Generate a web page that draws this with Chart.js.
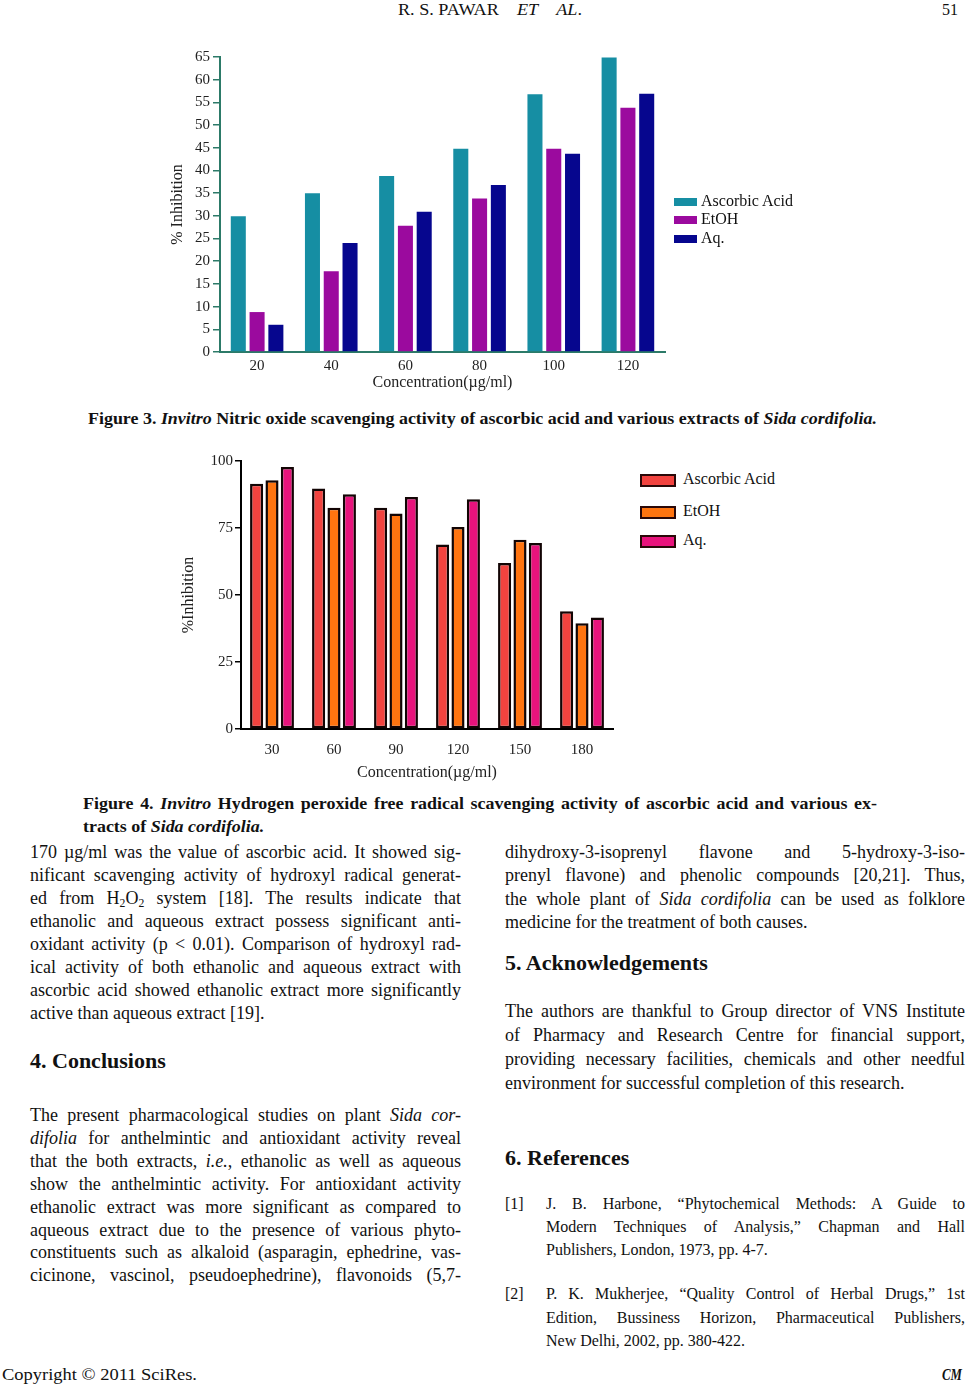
<!DOCTYPE html>
<html>
<head>
<meta charset="utf-8">
<script src="https://cdn.jsdelivr.net/npm/chart.js@4.4.1/dist/chart.umd.min.js"></script>
<style>
  html, body { margin: 0; padding: 0; background: #fff; }
  body { width: 966px; height: 1386px; position: relative; overflow: hidden;
         font-family: "Liberation Serif", "Times New Roman", serif; color: #111; }
  .line { position: absolute; height: 22px; line-height: 22px; font-size: 18px; white-space: nowrap; }
  .just { text-align: justify; text-align-last: justify; white-space: normal; }
  .ref { font-size: 16px; }
  .head { font-weight: bold; font-size: 22px; }
  .fit { position: absolute; white-space: nowrap; transform-origin: 0 50%; height: 22px; line-height: 22px; }
  sub { font-size: 0.65em; line-height: 0; vertical-align: -0.25em; }
  canvas { position: absolute; }
  .legItem { position: absolute; white-space: nowrap; font-size: 16px; height: 18px; line-height: 18px; color: #111; }
  .legItem span { display: inline-block; vertical-align: middle; box-sizing: border-box; }
</style>
</head>
<body>

<div id="hdr" class="fit" style="left:398px; top:-1px; font-size:17px;">R. S. PAWAR&nbsp;&nbsp;&nbsp;&nbsp;<i>ET</i>&nbsp;&nbsp;&nbsp;&nbsp;<i>AL</i>.</div>
<div id="pg" class="fit" style="left:942px; top:-1px; font-size:17px;">51</div>

<canvas id="fig3Chart" width="515" height="355" style="left:160px; top:45px;"></canvas>
<div id="fig3Legend"></div>
<div id="cap3" class="fit" style="left:88px; top:407px; font-size:17.5px; font-weight:bold;">Figure 3. <i>Invitro</i> Nitric oxide scavenging activity of ascorbic acid and various extracts of <i>Sida cordifolia.</i></div>

<canvas id="fig4Chart" width="455" height="338" style="left:170px; top:450px;"></canvas>
<div id="fig4Legend"></div>
<div id="cap4a" class="fit just" style="left:83px; top:792px; font-size:17.5px; font-weight:bold;">Figure 4. <i>Invitro</i> Hydrogen peroxide free radical scavenging activity of ascorbic acid and various ex-</div>
<div id="cap4b" class="fit" style="left:83px; top:815px; font-size:17.5px; font-weight:bold;">tracts of <i>Sida cordifolia.</i></div>

<div id="text"></div>

<div id="copy" class="fit" style="left:2px; top:1364px; font-size:17px;">Copyright © 2011 SciRes.</div>
<div id="cm" class="fit" style="left:942px; top:1364px; font-size:17px; font-weight:bold; font-style:italic;">CM</div>

<script>
// ---- chart data ----
const seriesNames = ['Ascorbic Acid', 'EtOH', 'Aq.'];

const fig3Conc = ['20', '40', '60', '80', '100', '120'];
const fig3Ascorbic = [29.9, 35.0, 38.8, 44.8, 56.8, 64.9];
const fig3Etoh = [8.8, 17.8, 27.8, 33.8, 44.8, 53.8];
const fig3Aq = [6.0, 24.0, 30.9, 36.8, 43.7, 56.9];
const fig3YMax = 65;
const fig3YStep = 5;

const fig4Conc = ['30', '60', '90', '120', '150', '180'];
const fig4Ascorbic = [91.5, 89.7, 82.6, 68.8, 61.9, 43.9];
const fig4Etoh = [92.8, 82.6, 80.4, 75.4, 70.6, 39.5];
const fig4Aq = [97.8, 87.6, 86.6, 85.7, 69.4, 41.6];
const fig4YMax = 100;
const fig4YStep = 25;

const fig3Colors = ['#168ea3', '#9b0a9e', '#06068e'];
const fig4Colors = ['#f2433f', '#ff7410', '#e8137c'];

Chart.defaults.font.family = '"Liberation Serif", "Times New Roman", serif';
Chart.defaults.color = '#222';

// ---- figure 3 ----
const axis3 = '#2c7a68';
new Chart(document.getElementById('fig3Chart'), {
  type: 'bar',
  data: {
    labels: fig3Conc,
    datasets: [fig3Ascorbic, fig3Etoh, fig3Aq].map((vals, i) => ({
      label: seriesNames[i],
      data: vals,
      backgroundColor: fig3Colors[i],
      barPercentage: 0.8,
      categoryPercentage: 0.76
    }))
  },
  options: {
    responsive: false,
    animation: false,
    layout: { padding: { top: 10, right: 10, bottom: 4, left: 0 } },
    plugins: { legend: { display: false }, tooltip: { enabled: false } },
    scales: {
      x: {
        grid: { display: false, drawTicks: false },
        border: { display: true, color: axis3, width: 2 },
        ticks: { padding: 5, font: { size: 15 }, color: '#222' },
        title: { display: true, text: 'Concentration(µg/ml)', font: { size: 16 }, color: '#222', padding: { top: 0, bottom: 4 } },
        afterFit: s => { s.height = 44; }
      },
      y: {
        min: 0,
        max: fig3YMax,
        grid: { drawOnChartArea: false, drawTicks: true, tickLength: 7, color: axis3, lineWidth: 1.5 },
        border: { display: true, color: axis3, width: 2 },
        ticks: { stepSize: fig3YStep, padding: 3, font: { size: 15 }, color: '#222' },
        title: { display: true, text: '% Inhibition', font: { size: 16 }, color: '#222', padding: { top: 8, bottom: 0 } },
        afterFit: s => { s.width = 60; }
      }
    }
  }
});

// ---- figure 4 ----
new Chart(document.getElementById('fig4Chart'), {
  type: 'bar',
  data: {
    labels: fig4Conc,
    datasets: [fig4Ascorbic, fig4Etoh, fig4Aq].map((vals, i) => ({
      label: seriesNames[i],
      data: vals,
      backgroundColor: fig4Colors[i],
      borderColor: '#120404',
      borderWidth: 2.5,
      borderSkipped: false,
      barPercentage: 0.85,
      categoryPercentage: 0.745
    }))
  },
  options: {
    responsive: false,
    animation: false,
    layout: { padding: { top: 11, right: 12, bottom: 3, left: 0 } },
    plugins: { legend: { display: false }, tooltip: { enabled: false } },
    scales: {
      x: {
        grid: { display: false, drawTicks: false },
        border: { display: true, color: '#000', width: 2 },
        ticks: { padding: 12, font: { size: 15 }, color: '#222' },
        title: { display: true, text: 'Concentration(µg/ml)', font: { size: 16 }, color: '#222', padding: { top: 0, bottom: 3 } },
        afterFit: s => { s.height = 56; }
      },
      y: {
        min: 0,
        max: fig4YMax,
        grid: { drawOnChartArea: false, drawTicks: true, tickLength: 6, color: '#000', lineWidth: 1.5 },
        border: { display: true, color: '#000', width: 2 },
        ticks: { stepSize: fig4YStep, padding: 2, font: { size: 15 }, color: '#222' },
        title: { display: true, text: '%Inhibition', font: { size: 16 }, color: '#222', padding: { top: 9, bottom: 0 } },
        afterFit: s => { s.width = 71; }
      }
    }
  }
});

// ---- legends (built from the series names / colours) ----
function buildLegend(holderId, colors, left, centers, boxW, boxH, border, textGap) {
  const holder = document.getElementById(holderId);
  seriesNames.forEach((name, i) => {
    const item = document.createElement('div');
    item.className = 'legItem';
    item.style.left = left + 'px';
    item.style.top = (centers[i] - 9) + 'px';
    const box = document.createElement('span');
    box.style.width = boxW + 'px';
    box.style.height = boxH + 'px';
    box.style.background = colors[i];
    if (border) box.style.border = border;
    box.style.marginRight = textGap + 'px';
    item.appendChild(box);
    item.appendChild(document.createTextNode(name));
    holder.appendChild(item);
  });
}
buildLegend('fig3Legend', fig3Colors, 674, [201, 219, 238], 23, 8, null, 4);
buildLegend('fig4Legend', fig4Colors, 640, [479, 511, 540], 36, 13, '2.5px solid #2a0808', 7);

// ---- body text ----
const leftPara1 = [
  '170 µg/ml was the value of ascorbic acid. It showed sig-',
  'nificant scavenging activity of hydroxyl radical generat-',
  'ed from H<sub>2</sub>O<sub>2</sub> system [18]. The results indicate that',
  'ethanolic and aqueous extract possess significant anti-',
  'oxidant activity (p &lt; 0.01). Comparison of hydroxyl rad-',
  'ical activity of both ethanolic and aqueous extract with',
  'ascorbic acid showed ethanolic extract more significantly',
  'active than aqueous extract [19].'
];
const leftPara2 = [
  'The present pharmacological studies on plant <i>Sida cor-</i>',
  '<i>difolia</i> for anthelmintic and antioxidant activity reveal',
  'that the both extracts, <i>i.e.</i>, ethanolic as well as aqueous',
  'show the anthelmintic activity. For antioxidant activity',
  'ethanolic extract was more significant as compared to',
  'aqueous extract due to the presence of various phyto-',
  'constituents such as alkaloid (asparagin, ephedrine, vas-',
  'cicinone, vascinol, pseudoephedrine), flavonoids (5,7-'
];
const rightPara1 = [
  'dihydroxy-3-isoprenyl flavone and 5-hydroxy-3-iso-',
  'prenyl flavone) and phenolic compounds [20,21]. Thus,',
  'the whole plant of <i>Sida cordifolia</i> can be used as folklore',
  'medicine for the treatment of both causes.'
];
const rightPara2 = [
  'The authors are thankful to Group director of VNS Institute',
  'of Pharmacy and Research Centre for financial support,',
  'providing necessary facilities, chemicals and other needful',
  'environment for successful completion of this research.'
];
const ref1 = [
  'J. B. Harbone, “Phytochemical Methods: A Guide to',
  'Modern Techniques of Analysis,” Chapman and Hall',
  'Publishers, London, 1973, pp. 4-7.'
];
const ref2 = [
  'P. K. Mukherjee, “Quality Control of Herbal Drugs,” 1st',
  'Edition, Bussiness Horizon, Pharmaceutical Publishers,',
  'New Delhi, 2002, pp. 380-422.'
];

const textBox = document.getElementById('text');
function addLine(html, left, width, cy, cls) {
  const d = document.createElement('div');
  d.className = 'line ' + (cls || '');
  d.style.left = left + 'px';
  d.style.width = width + 'px';
  d.style.top = (cy - 11) + 'px';
  d.innerHTML = html;
  textBox.appendChild(d);
}
function addPara(lines, left, width, cy0, step, extra, lastJustified) {
  lines.forEach((l, i) => {
    const justify = i < lines.length - 1 || lastJustified;
    addLine(l, left, width, cy0 + i * step, (justify ? 'just ' : '') + (extra || ''));
  });
}

addPara(leftPara1, 30, 431, 852, 23, '', false);
addLine('4. Conclusions', 30, 431, 1061, 'head');
addPara(leftPara2, 30, 431, 1115, 22.9, '', true);

addPara(rightPara1, 505, 460, 852, 23.3, '', false);
addLine('5. Acknowledgements', 505, 460, 963, 'head');
addPara(rightPara2, 505, 460, 1011, 24, '', false);
addLine('6. References', 505, 460, 1158, 'head');
addLine('[1]', 505, 40, 1204, 'ref');
addPara(ref1, 546, 419, 1204, 23, 'ref', false);
addLine('[2]', 505, 40, 1294, 'ref');
addPara(ref2, 546, 419, 1294, 23.5, 'ref', false);

// ---- condensed header/caption text: squeeze to the page widths ----
function fitTo(id, target) {
  const el = document.getElementById(id);
  const w = el.getBoundingClientRect().width;
  const r = target / w;
  el.style.transform = 'scaleX(' + r + ')';
  return r;
}
const capRatio = fitTo('cap3', 789);
const cap4a = document.getElementById('cap4a');
cap4a.style.width = (794 / capRatio) + 'px';
cap4a.style.transform = 'scaleX(' + capRatio + ')';
document.getElementById('cap4b').style.transform = 'scaleX(' + capRatio + ')';
fitTo('hdr', 184);
fitTo('pg', 16);
fitTo('copy', 195);
fitTo('cm', 20);
</script>
</body>
</html>
